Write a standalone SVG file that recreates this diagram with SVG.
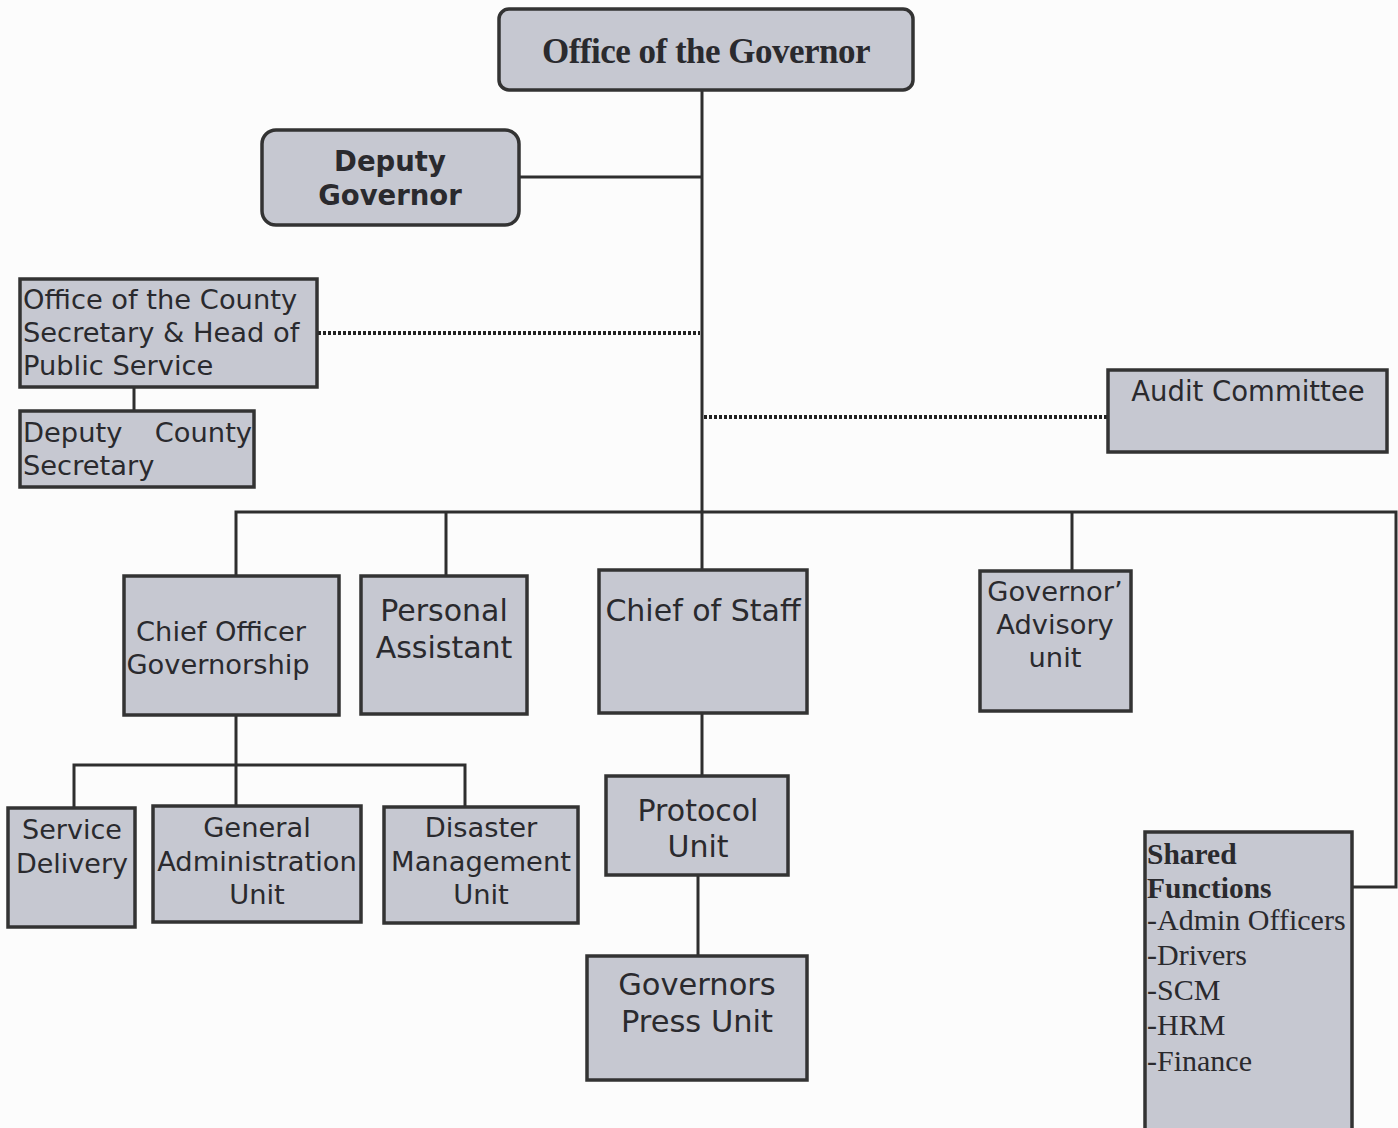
<svg xmlns="http://www.w3.org/2000/svg" width="1398" height="1128" viewBox="0 0 1398 1128">
<style>
.box{fill:#c6c8d1;stroke:#333;stroke-width:3.5}
.ln{fill:none;stroke:#2e2e2e;stroke-width:3}
.dot{fill:none;stroke:#222;stroke-width:4;stroke-dasharray:3 2}
.t{font-family:"DejaVu Sans",Verdana,sans-serif;fill:#2a2a2e}
.c{text-anchor:middle}
.s{font-family:"Liberation Serif","Times New Roman",serif;fill:#2a2a2e}
</style>
<rect width="1398" height="1128" fill="#fcfcfc"/>
<g id="connectors">
<line class="ln" x1="702" y1="90" x2="702" y2="570"/>
<line class="ln" x1="519" y1="177" x2="702" y2="177"/>
<line class="dot" x1="318" y1="333" x2="700" y2="333"/>
<line class="ln" x1="134" y1="387" x2="134" y2="411"/>
<line class="dot" x1="704" y1="417" x2="1108" y2="417"/>
<polyline class="ln" points="236,576 236,512 1396,512 1396,887 1352,887"/>
<line class="ln" x1="446" y1="512" x2="446" y2="576"/>
<line class="ln" x1="1072" y1="512" x2="1072" y2="572"/>
<line class="ln" x1="236" y1="715" x2="236" y2="806"/>
<polyline class="ln" points="74,808 74,765 465,765 465,808"/>
<line class="ln" x1="702" y1="713" x2="702" y2="776"/>
<line class="ln" x1="698" y1="875" x2="698" y2="957"/>
</g>
<g id="governor">
<rect class="box" x="499" y="9" width="414" height="81" rx="10" stroke-width="4"/>
<text class="s c" x="706" y="63" font-size="35" font-weight="bold" style="letter-spacing:-0.5px">Office of the Governor</text>
</g>
<g id="deputy-governor">
<rect class="box" x="262" y="130" width="257" height="95" rx="14"/>
<text class="t c" x="390" y="171" font-size="27.5" font-weight="bold">Deputy</text>
<text class="t c" x="390" y="205" font-size="27.5" font-weight="bold">Governor</text>
</g>
<g id="county-secretary">
<rect class="box" x="20" y="279" width="297" height="108"/>
<text class="t" x="23" y="309" font-size="27.3">Office of the County</text>
<text class="t" x="23" y="342" font-size="27.3">Secretary &amp; Head of</text>
<text class="t" x="23" y="375" font-size="27.3">Public Service</text>
</g>
<g id="deputy-county-secretary">
<rect class="box" x="20" y="411" width="234" height="76"/>
<text class="t" x="23" y="442" font-size="27.3">Deputy</text>
<text class="t" x="252" y="442" font-size="27.3" text-anchor="end">County</text>
<text class="t" x="23" y="475" font-size="27.3">Secretary</text>
</g>
<g id="audit-committee">
<rect class="box" x="1108" y="370" width="279" height="82"/>
<text class="t c" x="1248" y="401" font-size="27.5">Audit Committee</text>
</g>
<g id="chief-officer">
<rect class="box" x="124" y="576" width="215" height="139"/>
<text class="t c" x="221" y="641" font-size="27.3">Chief Officer</text>
<text class="t c" x="218" y="674" font-size="27.3">Governorship</text>
</g>
<g id="personal-assistant">
<rect class="box" x="361" y="576" width="166" height="138"/>
<text class="t c" x="444" y="621" font-size="30">Personal</text>
<text class="t c" x="444" y="658" font-size="30">Assistant</text>
</g>
<g id="chief-of-staff">
<rect class="box" x="599" y="570" width="208" height="143"/>
<text class="t c" x="703" y="621" font-size="30">Chief of Staff</text>
</g>
<g id="advisory-unit">
<rect class="box" x="980" y="571" width="151" height="140"/>
<text class="t c" x="1055" y="601" font-size="27.3">Governor’</text>
<text class="t c" x="1055" y="634" font-size="27.3">Advisory</text>
<text class="t c" x="1055" y="667" font-size="27.3">unit</text>
</g>
<g id="service-delivery">
<rect class="box" x="8" y="808" width="127" height="119"/>
<text class="t c" x="72" y="839" font-size="27">Service</text>
<text class="t c" x="72" y="873" font-size="27">Delivery</text>
</g>
<g id="general-administration">
<rect class="box" x="153" y="806" width="208" height="116"/>
<text class="t c" x="257" y="837" font-size="27.3">General</text>
<text class="t c" x="257" y="871" font-size="27.3">Administration</text>
<text class="t c" x="257" y="904" font-size="27.3">Unit</text>
</g>
<g id="disaster-management">
<rect class="box" x="384" y="807" width="194" height="116"/>
<text class="t c" x="481" y="837" font-size="27.3">Disaster</text>
<text class="t c" x="481" y="871" font-size="27.3">Management</text>
<text class="t c" x="481" y="904" font-size="27.3">Unit</text>
</g>
<g id="protocol-unit">
<rect class="box" x="606" y="776" width="182" height="99"/>
<text class="t c" x="698" y="821" font-size="30">Protocol</text>
<text class="t c" x="698" y="857" font-size="30">Unit</text>
</g>
<g id="press-unit">
<rect class="box" x="587" y="956" width="220" height="124"/>
<text class="t c" x="697" y="995" font-size="30.5">Governors</text>
<text class="t c" x="697" y="1032" font-size="30.5">Press Unit</text>
</g>
<g id="shared-functions">
<rect class="box" x="1145" y="832" width="207" height="300"/>
<text class="s" x="1147" y="864" font-size="29.5" font-weight="bold">Shared</text>
<text class="s" x="1147" y="898" font-size="29.5" font-weight="bold">Functions</text>
<text class="s" x="1147" y="930" font-size="30">-Admin Officers</text>
<text class="s" x="1147" y="965" font-size="30">-Drivers</text>
<text class="s" x="1147" y="1000" font-size="30">-SCM</text>
<text class="s" x="1147" y="1035" font-size="30">-HRM</text>
<text class="s" x="1147" y="1071" font-size="30">-Finance</text>
</g>
</svg>
